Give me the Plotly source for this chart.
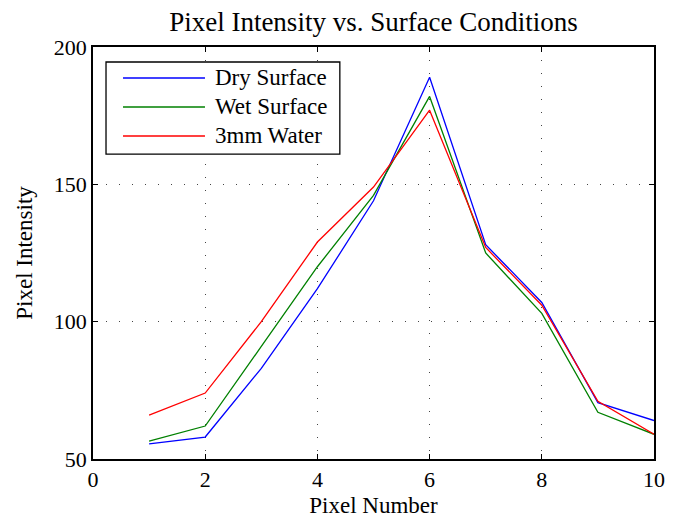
import plotly.graph_objects as go

pixel_number = [1, 2, 3, 4, 5, 6, 7, 8, 9, 10]
dry_surface = [55.5, 58, 83, 112, 144, 189, 128, 107, 70.5, 64]
wet_surface = [56.5, 62, 91, 120, 146, 182, 125, 103, 67, 59]
water_3mm = [66, 74, 100, 129, 149, 177, 127, 106, 71, 59]

series = [
    ("Dry Surface", dry_surface, "#0000ff"),
    ("Wet Surface", wet_surface, "#008000"),
    ("3mm Water", water_3mm, "#ff0000"),
]

font_family = "Liberation Serif"

fig = go.Figure()
for name, vals, color in series:
    fig.add_trace(go.Scatter(x=pixel_number, y=vals, mode="lines", name=name,
                             line=dict(color=color, width=1.3), showlegend=False))

# Manual MATLAB-style legend box
fig.add_shape(type="rect", xref="paper", yref="paper",
              x0=0.0232, x1=0.440, y0=0.740, y1=0.9636,
              line=dict(color="black", width=1.3), fillcolor="white", layer="above")
row_y = [0.9248, 0.8544, 0.7840]
for (name, vals, color), yy in zip(series, row_y):
    fig.add_shape(type="line", xref="paper", yref="paper",
                  x0=0.0535, x1=0.1996, y0=yy, y1=yy,
                  line=dict(color=color, width=1.3), layer="above")
    fig.add_annotation(xref="paper", yref="paper", x=0.2139, y=yy, text=name,
                       showarrow=False, xanchor="left", yanchor="middle",
                       font=dict(family=font_family, size=23, color="black"))

axis_common = dict(
    showline=True, linecolor="black", linewidth=1.5, mirror="ticks",
    ticks="inside", ticklen=5, tickcolor="black", tickwidth=1,
    showgrid=True, gridcolor="#444444", griddash="1px,12px", gridwidth=1,
    zeroline=False, tickfont=dict(family=font_family, size=22, color="black"),
)

fig.update_layout(
    width=677, height=519,
    margin=dict(l=85, r=31, t=39, b=68),
    paper_bgcolor="white", plot_bgcolor="white",
    title=dict(text="Pixel Intensity vs. Surface Conditions", x=0.5, xanchor="center",
               xref="paper",
               y=1.0, yanchor="top", pad=dict(t=4, b=0),
               font=dict(family=font_family, size=27, color="black")),
    xaxis=dict(range=[0, 10], tickvals=[0, 2, 4, 6, 8, 10],
               title=dict(text="Pixel Number", font=dict(family=font_family, size=23, color="black"), standoff=6),
               **axis_common),
    yaxis=dict(range=[50, 200], tickvals=[50, 100, 150, 200],
               title=dict(text="Pixel Intensity", font=dict(family=font_family, size=23, color="black"), standoff=15),
               **axis_common),
    showlegend=False,
)

fig.write_html("out.html")
